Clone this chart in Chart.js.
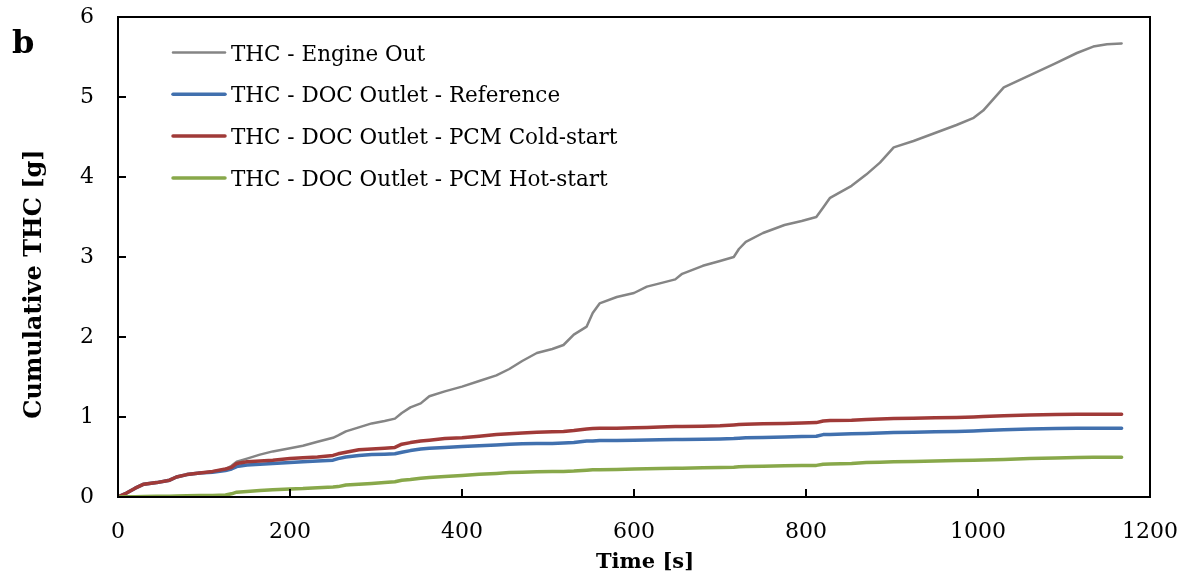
<!DOCTYPE html>
<html>
<head>
<meta charset="utf-8">
<script src="https://cdn.jsdelivr.net/npm/chart.js@4"></script>
<style>
  html, body { margin: 0; padding: 0; background: #fff; }
  #wrap { width: 1187px; height: 581px; position: relative; }
</style>
</head>
<body>
<div id="wrap"><canvas id="c" width="1187" height="581"></canvas></div>
<script>
// ---- data ----
const timeS = [0, 10, 20, 30, 45, 60, 68, 80, 95, 110, 125, 132, 138, 150, 165, 180, 200, 215, 232, 250, 256, 265, 280, 295, 310, 322, 330, 340, 352, 362, 380, 400, 420, 440, 455, 470, 487, 505, 518, 530, 545, 552, 560, 580, 600, 615, 630, 648, 656, 680, 700, 716, 722, 730, 750, 775, 795, 812, 820, 828, 853, 870, 886, 902, 925, 950, 975, 995, 1006, 1030, 1060, 1090, 1115, 1134, 1150, 1167];

const engineOut = [0, 0.05, 0.11, 0.16, 0.18, 0.21, 0.25, 0.28, 0.30, 0.32, 0.35, 0.39, 0.44, 0.48, 0.53, 0.57, 0.61, 0.64, 0.69, 0.74, 0.77, 0.82, 0.87, 0.92, 0.95, 0.98, 1.05, 1.12, 1.17, 1.26, 1.32, 1.38, 1.45, 1.52, 1.60, 1.70, 1.80, 1.85, 1.90, 2.03, 2.13, 2.30, 2.42, 2.50, 2.55, 2.63, 2.67, 2.72, 2.79, 2.89, 2.95, 3.00, 3.10, 3.19, 3.30, 3.40, 3.45, 3.50, 3.62, 3.74, 3.89, 4.03, 4.18, 4.37, 4.45, 4.55, 4.65, 4.74, 4.83, 5.12, 5.27, 5.42, 5.55, 5.63, 5.66, 5.67];

const docReference = [0, 0.05, 0.11, 0.16, 0.18, 0.21, 0.25, 0.28, 0.30, 0.31, 0.33, 0.35, 0.38, 0.40, 0.41, 0.42, 0.43, 0.44, 0.45, 0.46, 0.48, 0.50, 0.52, 0.53, 0.535, 0.54, 0.56, 0.58, 0.60, 0.61, 0.62, 0.63, 0.64, 0.65, 0.66, 0.665, 0.67, 0.67, 0.675, 0.68, 0.70, 0.70, 0.705, 0.705, 0.71, 0.712, 0.715, 0.72, 0.72, 0.722, 0.725, 0.73, 0.735, 0.74, 0.745, 0.75, 0.755, 0.76, 0.78, 0.782, 0.79, 0.795, 0.80, 0.805, 0.81, 0.815, 0.82, 0.825, 0.83, 0.84, 0.85, 0.855, 0.858, 0.86, 0.86, 0.86];

const pcmColdStart = [0, 0.05, 0.11, 0.16, 0.18, 0.21, 0.25, 0.28, 0.30, 0.32, 0.35, 0.37, 0.42, 0.44, 0.45, 0.46, 0.48, 0.49, 0.50, 0.52, 0.54, 0.56, 0.59, 0.60, 0.61, 0.62, 0.66, 0.68, 0.70, 0.71, 0.73, 0.74, 0.76, 0.78, 0.79, 0.80, 0.81, 0.815, 0.82, 0.83, 0.85, 0.855, 0.86, 0.86, 0.865, 0.87, 0.875, 0.88, 0.88, 0.885, 0.89, 0.90, 0.905, 0.91, 0.915, 0.92, 0.925, 0.93, 0.95, 0.955, 0.96, 0.97, 0.975, 0.98, 0.985, 0.99, 0.995, 1.0, 1.005, 1.015, 1.025, 1.03, 1.033, 1.035, 1.035, 1.035];

const pcmHotStart = [0, 0.002, 0.004, 0.006, 0.008, 0.01, 0.012, 0.015, 0.018, 0.02, 0.025, 0.04, 0.06, 0.07, 0.08, 0.09, 0.10, 0.105, 0.115, 0.125, 0.13, 0.15, 0.16, 0.17, 0.18, 0.19, 0.21, 0.22, 0.235, 0.245, 0.255, 0.27, 0.285, 0.295, 0.305, 0.31, 0.315, 0.318, 0.32, 0.325, 0.335, 0.34, 0.342, 0.345, 0.35, 0.352, 0.355, 0.358, 0.36, 0.365, 0.37, 0.372, 0.378, 0.38, 0.385, 0.39, 0.393, 0.395, 0.41, 0.412, 0.42, 0.43, 0.435, 0.44, 0.445, 0.45, 0.455, 0.458, 0.462, 0.47, 0.48, 0.488, 0.493, 0.497, 0.498, 0.498];

const seriesLabels = ['THC - Engine Out', 'THC - DOC Outlet - Reference', 'THC - DOC Outlet - PCM Cold-start', 'THC - DOC Outlet - PCM Hot-start'];
const seriesColors = ['#858585', '#4170AE', '#A03A38', '#88A84A'];
const xTickValues = [0, 200, 400, 600, 800, 1000, 1200];
const yTickValues = [0, 1, 2, 3, 4, 5, 6];
const xTitle = 'Time [s]';
const yTitle = 'Cumulative THC [g]';
const panelLetter = 'b';

// ---- chart ----
const SERIF = '"DejaVu Serif", "Liberation Serif", serif';
const seriesValues = [engineOut, docReference, pcmColdStart, pcmHotStart];
const widths = [2.5, 3.5, 3.5, 3.5];
const orders = [4, 3, 2, 1];
const TARGET = { left: 118, top: 17, right: 1150, bottom: 497 };

const datasets = seriesValues.map((vals, i) => ({
  label: seriesLabels[i],
  data: timeS.map((t, k) => ({ x: t, y: vals[k] })),
  borderColor: seriesColors[i],
  backgroundColor: seriesColors[i],
  borderWidth: widths[i],
  pointRadius: 0,
  tension: 0,
  fill: false,
  order: orders[i],
  borderCapStyle: 'round',
  borderJoinStyle: 'round'
}));

const framePlugin = {
  id: 'frame',
  afterDatasetsDraw(chart) {
    const { ctx, chartArea: a, scales } = chart;
    ctx.save();
    ctx.strokeStyle = '#000';
    ctx.lineWidth = 2;
    ctx.strokeRect(a.left, a.top, a.right - a.left, a.bottom - a.top);
    // inside tick marks
    ctx.beginPath();
    xTickValues.forEach(v => {
      if (v <= 0 || v >= 1200) return;
      const px = Math.round(scales.x.getPixelForValue(v));
      ctx.moveTo(px, a.bottom);
      ctx.lineTo(px, a.bottom - 8);
    });
    yTickValues.forEach(v => {
      if (v <= 0 || v >= 6) return;
      const py = Math.round(scales.y.getPixelForValue(v));
      ctx.moveTo(a.left, py);
      ctx.lineTo(a.left + 8, py);
    });
    ctx.stroke();

    // legend (inside plot, top-left)
    ctx.textAlign = 'left';
    ctx.textBaseline = 'alphabetic';
    ctx.font = '21.5px ' + SERIF;
    chart.data.datasets.forEach((ds, i) => {
      const y = 52.5 + i * 41.8;
      ctx.strokeStyle = ds.borderColor;
      ctx.lineWidth = ds.borderWidth;
      ctx.lineCap = 'round';
      ctx.beginPath();
      ctx.moveTo(173, y);
      ctx.lineTo(225, y);
      ctx.stroke();
      ctx.fillStyle = '#000';
      ctx.fillText(ds.label, 231, y + 8);
    });

    // y axis title
    ctx.save();
    ctx.translate(35, 284);
    ctx.rotate(-Math.PI / 2);
    ctx.textAlign = 'center';
    ctx.textBaseline = 'middle';
    ctx.font = 'bold 24px ' + SERIF;
    ctx.fillStyle = '#000';
    ctx.fillText(yTitle, 0, 0);
    ctx.restore();

    // x axis title
    ctx.textAlign = 'center';
    ctx.textBaseline = 'middle';
    ctx.font = 'bold 21px ' + SERIF;
    ctx.fillStyle = '#000';
    ctx.fillText(xTitle, 645, 563);

    // panel letter
    ctx.font = 'bold 32px ' + SERIF;
    ctx.textAlign = 'left';
    ctx.textBaseline = 'alphabetic';
    ctx.fillText(panelLetter, 12, 53);
    ctx.restore();
  }
};

const pad = { top: 17, right: 37, left: 0, bottom: 0 };

const chart = new Chart(document.getElementById('c'), {
  type: 'line',
  data: { datasets },
  plugins: [framePlugin],
  options: {
    responsive: false,
    animation: false,
    devicePixelRatio: 1,
    layout: { padding: Object.assign({}, pad) },
    plugins: {
      legend: { display: false },
      tooltip: { enabled: false }
    },
    scales: {
      x: {
        type: 'linear',
        min: 0,
        max: 1200,
        afterBuildTicks: (s) => { s.ticks = xTickValues.map(v => ({ value: v })); },
        afterFit: (s) => { s.height = 84; },
        grid: { display: true, drawOnChartArea: false, drawTicks: true, tickLength: 22, tickColor: 'rgba(0,0,0,0)', color: 'rgba(0,0,0,0)' },
        border: { display: false },
        ticks: {
          color: '#000',
          padding: 0,
          maxRotation: 0,
          autoSkip: false,
          callback: (v) => String(v),
          font: { family: SERIF, size: 22 }
        },
        title: { display: false, text: xTitle }
      },
      y: {
        type: 'linear',
        min: 0,
        max: 6,
        afterBuildTicks: (s) => { s.ticks = yTickValues.map(v => ({ value: v })); },
        afterFit: (s) => { s.width = 118; },
        grid: { display: true, drawOnChartArea: false, drawTicks: true, tickLength: 24, tickColor: 'rgba(0,0,0,0)', color: 'rgba(0,0,0,0)' },
        border: { display: false },
        ticks: {
          color: '#000',
          padding: 0,
          autoSkip: false,
          callback: (v) => String(v),
          font: { family: SERIF, size: 22 }
        },
        title: { display: false, text: yTitle }
      }
    }
  }
});

// nudge layout padding so the plot box sits where the reference has it
for (let pass = 0; pass < 3; pass++) {
  const a = chart.chartArea;
  pad.top += TARGET.top - a.top;
  pad.right += a.right - TARGET.right;
  pad.left += TARGET.left - a.left;
  pad.bottom += a.bottom - TARGET.bottom;
  chart.config.options.layout.padding = Object.assign({}, pad);
  chart.update('none');
}
</script>
</body>
</html>
